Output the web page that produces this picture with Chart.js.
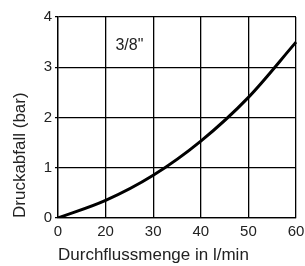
<!DOCTYPE html>
<html>
<head>
<meta charset="utf-8">
<script src="https://cdn.jsdelivr.net/npm/chart.js@4"></script>
<style>
  html, body { margin: 0; padding: 0; background: #ffffff; }
  #chart { display: block; }
</style>
</head>
<body>
<canvas id="chart" width="305" height="266"></canvas>
<script>
// flow (l/min) tick labels as printed on the chart, pressure drop in bar
var flowLabels = ['0', '20', '30', '40', '50', '60'];
var pressureDrop = [0, 0.35, 0.85, 1.53, 2.4, 3.5];
var pressureTicks = [0, 1, 2, 3, 4];
var curveLabel = '3/8"';

var textColor = '#222222';
var fontFamily = '"Liberation Sans", Arial, sans-serif';

// draws the "3/8"" note inside the plot
var notePlugin = {
    id: 'note',
    afterDatasetsDraw: function (chart) {
        var ctx = chart.ctx;
        var x = chart.scales.x.getPixelForValue(1.5);
        var y = chart.scales.y.getPixelForValue(3.44);
        ctx.save();
        ctx.fillStyle = textColor;
        ctx.font = '16px ' + fontFamily;
        ctx.textAlign = 'center';
        ctx.textBaseline = 'middle';
        ctx.fillText(curveLabel, x, y);
        ctx.restore();
    }
};

var lineChart = new Chart(document.getElementById('chart'), {
    type: 'line',
    data: {
        labels: flowLabels,
        datasets: [{
            label: 'Druckabfall',
            data: pressureDrop,
            borderColor: '#000000',
            borderWidth: 3,
            pointRadius: 0,
            cubicInterpolationMode: 'monotone',
            fill: false
        }]
    },
    options: {
        responsive: false,
        animation: false,
        layout: { padding: { top: 17, right: 9, left: 0, bottom: 0 } },
        plugins: {
            legend: { display: false },
            tooltip: { enabled: false }
        },
        scales: {
            x: {
                offset: false,
                grid: { color: '#000000', lineWidth: 1.3, drawTicks: false },
                border: { color: '#000000', width: 1.3 },
                ticks: {
                    color: textColor,
                    font: { family: fontFamily, size: 15 },
                    padding: 5,
                    maxRotation: 0
                },
                title: {
                    display: true,
                    align: 'start',
                    text: 'Durchflussmenge in l/min',
                    color: textColor,
                    font: { family: fontFamily, size: 17 },
                    padding: { top: 1, bottom: 0 }
                },
                afterFit: function (scale) {
                    scale.height = 48;
                    scale.paddingRight = 0;
                }
            },
            y: {
                min: 0,
                max: 4,
                afterBuildTicks: function (scale) {
                    scale.ticks = pressureTicks.map(function (v) { return { value: v }; });
                },
                grid: { color: '#000000', lineWidth: 1.3, drawTicks: true, tickLength: 3 },
                border: { color: '#000000', width: 1.3 },
                ticks: {
                    color: textColor,
                    font: { family: fontFamily, size: 15 },
                    padding: 3
                },
                title: {
                    display: true,
                    align: 'start',
                    text: 'Druckabfall (bar)',
                    color: textColor,
                    font: { family: fontFamily, size: 17 },
                    padding: { top: 10, bottom: 0 }
                },
                afterFit: function (scale) { scale.width = 58; }
            }
        }
    },
    plugins: [notePlugin]
});
</script>
</body>
</html>
